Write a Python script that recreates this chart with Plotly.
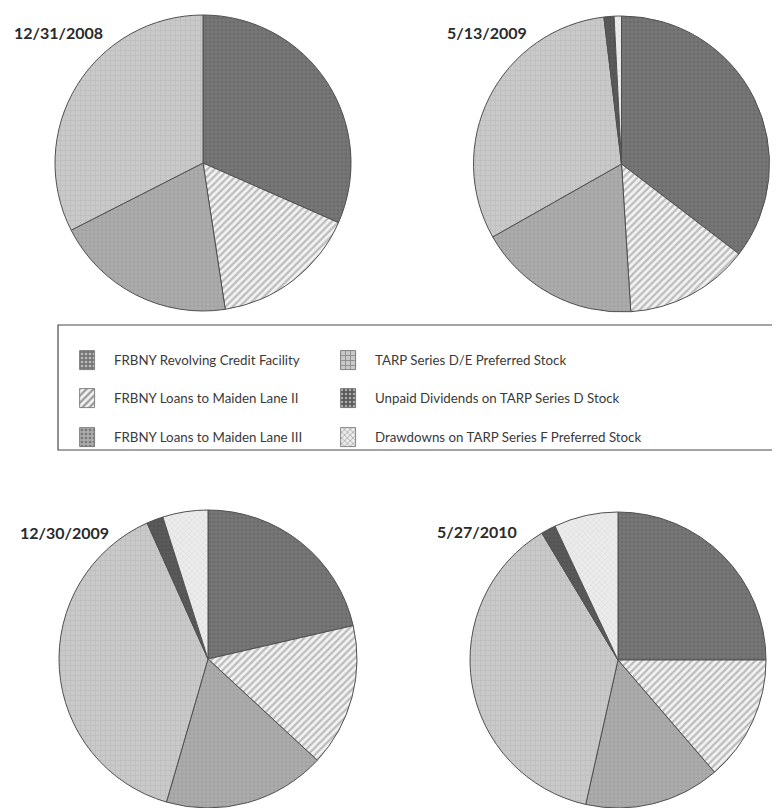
import plotly.graph_objects as go

# ---- data -------------------------------------------------------------
categories = [
    "FRBNY Revolving Credit Facility",
    "FRBNY Loans to Maiden Lane II",
    "FRBNY Loans to Maiden Lane III",
    "TARP Series D/E Preferred Stock",
    "Unpaid Dividends on TARP Series D Stock",
    "Drawdowns on TARP Series F Preferred Stock",
]
dates = ["12/31/2008", "5/13/2009", "12/30/2009", "5/27/2010"]
# approximate shares (%), in category order
shares_2008_12 = [31.6, 16.0, 19.9, 32.5]
shares_2009_05 = [35.4, 13.6, 17.8, 31.3, 1.1, 0.8]
shares_2009_12 = [21.4, 15.5, 17.6, 38.8, 1.8, 4.9]
shares_2010_05 = [25.0, 13.7, 14.8, 37.9, 1.6, 7.0]
all_shares = [shares_2008_12, shares_2009_05, shares_2009_12, shares_2010_05]

# ---- styles -----------------------------------------------------------
PAGE_W, PAGE_H = 780, 808
OFF = 8                      # default body margin of the html page
W, H = PAGE_W - OFF, PAGE_H - OFF

bg_colors = ["#767676", "#f2f2f2", "#ababab", "#c9c9c9", "#5a5a5a", "#ececec"]
fg_colors = ["#5e5e5e", "#858585", "#979797", "#b2b2b2", "#4a4a4a", "#c9c9c9"]
shapes_p = [".", "/", ".", "+", ".", "x"]
sizes_p = [4, 5, 4, 5, 4, 4]
solid_p = [0.35, 0.45, 0.35, 0.3, 0.3, 0.3]
edge = "#505050"

# pie placement in page pixels: (center x, center y from top, radius)
pie_px = [(203, 163, 148), (621.5, 164, 148), (208, 659, 149), (618, 660, 148)]
title_px = [(12, 32), (445, 32), (18, 532), (435, 531)]


def fx(px):
    return px - OFF


def fy(py):
    return py - OFF


fig = go.Figure()

for shares, (cx, cy, r) in zip(all_shares, pie_px):
    n = len(shares)
    cx, cy = fx(cx), fy(cy)
    fig.add_trace(go.Pie(
        labels=categories[:n],
        values=shares,
        sort=False,
        direction="clockwise",
        rotation=0,
        textinfo="none",
        hoverinfo="label+percent",
        showlegend=False,
        marker=dict(
            colors=bg_colors[:n],
            line=dict(color=edge, width=1),
            pattern=dict(
                shape=shapes_p[:n],
                fgcolor=fg_colors[:n],
                bgcolor=bg_colors[:n],
                size=sizes_p[:n],
                solidity=solid_p[:n],
                fillmode="overlay",
            ),
        ),
        domain=dict(
            x=[max(0, (cx - r) / W), min(1, (cx + r) / W)],
            y=[max(0, (H - cy - r) / H), min(1, (H - cy + r) / H)],
        ),
    ))

# ---- legend (drawn manually in a pixel-space overlay axis) -------------
box = dict(x0=fx(58), x1=fx(778), y0=fy(325), y1=fy(450))
row_y = [fy(360), fy(398), fy(437)]
col_swatch_x = [fx(80), fx(341)]
col_text_x = [fx(112), fx(373)]
sw_w, sw_h = 15, 19

sw_x, sw_base = [], []
for i in range(len(categories)):
    col, row = divmod(i, 3)
    sw_x.append(col_swatch_x[col] + sw_w / 2)
    sw_base.append(row_y[row] - sw_h / 2)

fig.add_trace(go.Bar(
    x=sw_x, y=[sw_h] * len(categories), base=sw_base, width=sw_w,
    marker=dict(
        color=bg_colors,
        line=dict(color="#6a6a6a", width=0.8),
        pattern=dict(shape=shapes_p, fgcolor=fg_colors, bgcolor=bg_colors,
                     size=sizes_p, solidity=solid_p, fillmode="overlay"),
    ),
    hoverinfo="skip", showlegend=False,
))

annotations = []
for i, name in enumerate(categories):
    col, row = divmod(i, 3)
    annotations.append(dict(
        x=col_text_x[col], y=row_y[row], xref="x", yref="y",
        text=name, showarrow=False, xanchor="left", yanchor="middle",
        font=dict(family="Lato, 'Open Sans', sans-serif", size=13.3, color="#3a3a3a"),
    ))
for d, (tx, ty) in zip(dates, title_px):
    annotations.append(dict(
        x=fx(tx), y=fy(ty), xref="x", yref="y", text=f"<b>{d}</b>", showarrow=False,
        xanchor="left", yanchor="middle",
        font=dict(family="Lato, 'Open Sans', sans-serif", size=16, color="#2a2a2a"),
    ))

fig.update_layout(
    width=W, height=H,
    margin=dict(l=0, r=0, t=0, b=0),
    paper_bgcolor="white", plot_bgcolor="rgba(0,0,0,0)",
    xaxis=dict(range=[0, W], visible=False, fixedrange=True, domain=[0, 1]),
    yaxis=dict(range=[H, 0], visible=False, fixedrange=True, domain=[0, 1]),
    shapes=[dict(type="rect", xref="x", yref="y", **box,
                 line=dict(color="#4a4a4a", width=1.2), layer="below")],
    annotations=annotations,
    bargap=0,
)

fig.write_html("out.html")
